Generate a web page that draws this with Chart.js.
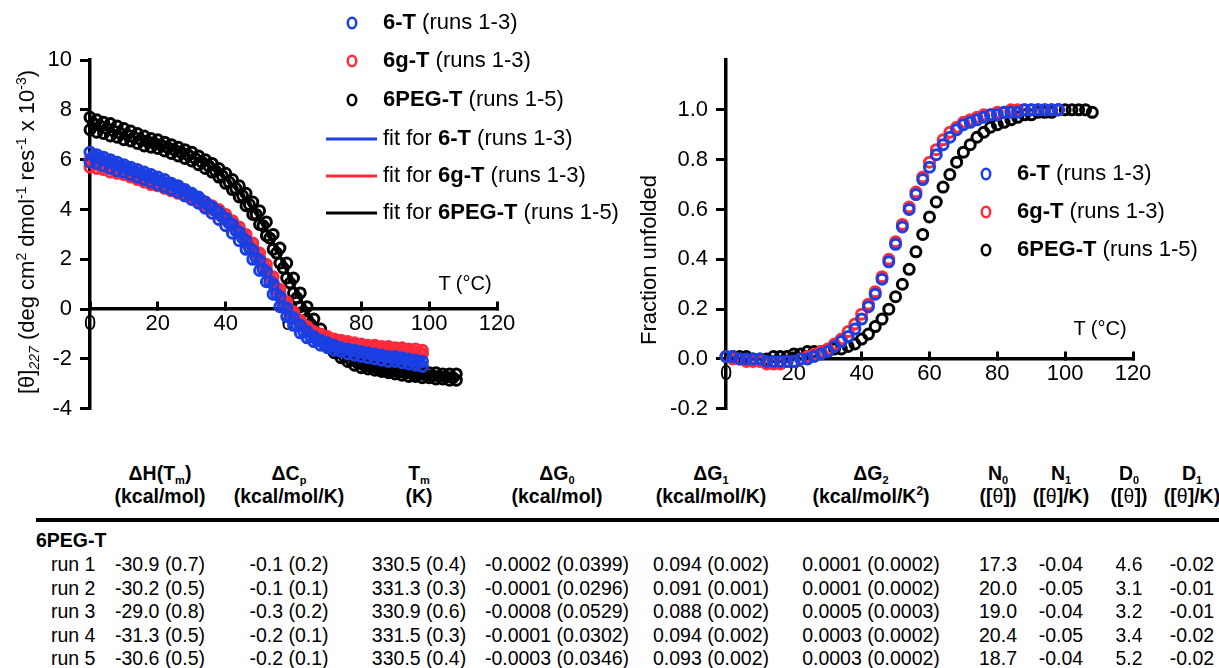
<!DOCTYPE html>
<html>
<head>
<meta charset="utf-8">
<script src="https://cdn.jsdelivr.net/npm/chart.js@4.4.1/dist/chart.umd.min.js"></script>
<style>
  html, body { margin: 0; padding: 0; background: #fff; }
  body { width: 1219px; height: 668px; position: relative; overflow: hidden;
         font-family: "Liberation Sans", Arial, sans-serif; color: #000; }
  canvas { position: absolute; top: 0; }
  #cdChart { left: 0; }
  #fracChart { left: 620px; }
  .lbl { position: absolute; white-space: nowrap; transform: translate(-50%, -50%); }
  .ytitle { position: absolute; white-space: nowrap; font-size: 22px;
            transform: translate(-50%, -50%) rotate(-90deg); }
  .ytitle sub, .ytitle sup { font-size: 14px; line-height: 0; }
  .ytitle sub { font-style: italic; }
  .axt { font-size: 20px; }
  .hd { font-weight: bold; font-size: 19.5px; }
  .hd sub { font-size: 11px; line-height: 0; vertical-align: -4px; }
  .hd sup { font-size: 12px; line-height: 0; }
  .th { font-weight: normal; }
  .val { font-size: 19.5px; }
  .rowlbl { position: absolute; white-space: nowrap; font-size: 19.5px; transform: translateY(-50%); }
  #rule { position: absolute; left: 36px; top: 518px; width: 1183px; height: 4px; background: #000; }
</style>
</head>
<body>
<canvas id="cdChart" width="640" height="430"></canvas>
<canvas id="fracChart" width="599" height="430"></canvas>

<div class="ytitle" style="left:27px; top:232px;">[θ]<sub>227</sub> (deg cm<sup>2</sup> dmol<sup>-1</sup> res<sup>-1</sup> x 10<sup>-3</sup>)</div>
<div class="ytitle" style="left:649px; top:260px;">Fraction unfolded</div>
<div class="lbl axt" style="left:465px; top:283px;">T (°C)</div>
<div class="lbl axt" style="left:1100px; top:328px;">T (°C)</div>
<div id="rule"></div>
<div id="table"></div>

<script>
// ---- CD signal, [θ]227 x 10^-3 (left panel) ----
const temps6T = [0,2,4,6,8,10,12,14,16,18,20,22,24,26,28,30,32,34,36,38,40,42,44,46,48,50,52,54,56,58,60,62,64,66,68,70,72,74,76,78,80,82,84,86,88,90,92,94,96,98]
const temps6T_odd = [1,3,5,7,9,11,13,15,17,19,21,23,25,27,29,31,33,35,37,39,41,43,45,47,49,51,53,55,57,59,61,63,65,67,69,71,73,75,77,79,81,83,85,87,89,91,93,95,97]
const tempsPEG = [0,2,4,6,8,10,12,14,16,18,20,22,24,26,28,30,32,34,36,38,40,42,44,46,48,50,52,54,56,58,60,62,64,66,68,70,72,74,76,78,80,82,84,86,88,90,92,94,96,98,100,102,104,106,108]
const tempsPEG_odd = [1,3,5,7,9,11,13,15,17,19,21,23,25,27,29,31,33,35,37,39,41,43,45,47,49,51,53,55,57,59,61,63,65,67,69,71,73,75,77,79,81,83,85,87,89,91,93,95,97,99,101,103,105,107]

const cd6T_a = [6.3,6.2,6.1,6.0,5.9,5.8,5.7,5.6,5.5,5.4, 5.3,5.2,5.05,4.95,4.8,4.65,4.5,4.3,4.1,3.9, 3.65,3.4,3.1,2.75,2.35,1.95,1.5,1.0,0.5,0.05, -0.35,-0.65,-0.9,-1.1,-1.25,-1.35,-1.45,-1.55,-1.6,-1.65, -1.7,-1.75,-1.8,-1.85,-1.9,-1.9,-1.95,-2.0,-2.05,-2.1]
const cd6T_b = [5.9,5.85,5.75,5.65,5.55,5.5,5.4,5.3,5.2,5.1, 5.0,4.9,4.8,4.7,4.55,4.4,4.25,4.05,3.85,3.6, 3.35,3.05,2.75,2.4,2.0,1.55,1.1,0.6,0.1,-0.3, -0.65,-0.95,-1.15,-1.3,-1.45,-1.55,-1.65,-1.7,-1.8,-1.85, -1.9,-1.95,-2.0,-2.05,-2.1,-2.1,-2.15,-2.2,-2.25,-2.3]
const cd6T_c = [6.15,6.05,5.95,5.85,5.75,5.65,5.55,5.45,5.35,5.25, 5.15,5.05,4.95,4.8,4.65,4.5,4.35,4.15,3.95,3.7, 3.45,3.15,2.85,2.45,2.05,1.6,1.1,0.6,0.1,-0.3, -0.65,-0.9,-1.1,-1.25,-1.4,-1.5,-1.55,-1.62,-1.68,-1.72, -1.78,-1.82,-1.88,-1.92,-1.97,-2.0,-2.05,-2.1,-2.15]
const cd6gT_a = [6.0,5.95,5.9,5.8,5.7,5.6,5.5,5.4,5.3,5.2, 5.1,5.0,4.9,4.8,4.7,4.6,4.45,4.3,4.15,4.0, 3.8,3.55,3.3,3.0,2.65,2.25,1.8,1.3,0.8,0.3, -0.1,-0.45,-0.7,-0.9,-1.0,-1.1,-1.2,-1.25,-1.3,-1.35, -1.4,-1.45,-1.45,-1.5,-1.5,-1.55,-1.55,-1.6,-1.6,-1.65]
const cd6gT_b = [5.7,5.65,5.6,5.5,5.45,5.4,5.3,5.2,5.1,5.0, 4.95,4.85,4.75,4.65,4.55,4.45,4.3,4.15,4.0,3.8, 3.6,3.35,3.1,2.8,2.45,2.05,1.6,1.1,0.6,0.15, -0.25,-0.55,-0.8,-0.95,-1.1,-1.2,-1.3,-1.35,-1.4,-1.45, -1.5,-1.55,-1.55,-1.6,-1.65,-1.65,-1.7,-1.7,-1.75,-1.8]
const cd6gT_c = [5.85,5.75,5.68,5.6,5.5,5.42,5.33,5.23,5.13,5.05, 4.97,4.87,4.77,4.67,4.57,4.45,4.3,4.15,3.97,3.77, 3.55,3.3,3.0,2.65,2.25,1.8,1.3,0.8,0.35,-0.05, -0.4,-0.65,-0.85,-1.0,-1.1,-1.2,-1.27,-1.32,-1.37,-1.42, -1.47,-1.5,-1.55,-1.57,-1.6,-1.62,-1.65,-1.68,-1.72]
const cdPEG_a = [7.7,7.6,7.5,7.45,7.35,7.25,7.15,7.05,6.95,6.85, 6.8,6.7,6.6,6.5,6.4,6.3,6.15,6.0,5.85,5.65, 5.45,5.2,4.95,4.65,4.3,3.95,3.5,3.0,2.45,1.85, 1.25,0.65,0.1,-0.4,-0.8,-1.15,-1.45,-1.7,-1.85,-2.0, -2.15,-2.25,-2.3,-2.35,-2.4,-2.45,-2.45,-2.5,-2.5,-2.55, -2.55,-2.55,-2.6,-2.6,-2.6]
const cdPEG_b = [7.2,7.1,7.05,6.95,6.9,6.8,6.75,6.65,6.55,6.5, 6.45,6.35,6.25,6.15,6.05,5.95,5.8,5.65,5.5,5.3, 5.05,4.8,4.5,4.15,3.8,3.4,2.95,2.4,1.85,1.25, 0.65,0.1,-0.4,-0.85,-1.2,-1.5,-1.75,-1.95,-2.1,-2.25, -2.35,-2.4,-2.45,-2.5,-2.55,-2.6,-2.65,-2.7,-2.7,-2.75, -2.75,-2.8,-2.8,-2.85,-2.85]
const cdPEG_c = [7.45,7.35,7.25,7.15,7.05,7.0,6.9,6.8,6.72,6.65, 6.58,6.48,6.38,6.28,6.18,6.05,5.9,5.75,5.55,5.35, 5.1,4.85,4.55,4.2,3.8,3.35,2.85,2.25,1.65,1.05, 0.45,-0.1,-0.6,-1.0,-1.3,-1.55,-1.75,-1.9,-2.05,-2.17, -2.27,-2.33,-2.4,-2.45,-2.5,-2.52,-2.57,-2.6,-2.62,-2.65, -2.67,-2.7,-2.72,-2.75]

// fitted curves (drawn under the markers)
const fitTemps6T = [0,5,10,15,20,25,30,35,40,45,50,55,60,65,70,75,80,85,90,95,98]
const fitTempsPEG = [0,5,10,15,20,25,30,35,40,45,50,55,60,65,70,75,80,85,90,95,100,105,108]
const fit6T = [6.1,5.85,5.65,5.4,5.15,4.9,4.55,4.0,3.5,2.75,1.75,0.8,-0.5,-1.1,-1.45,-1.65,-1.8,-1.9,-2.0,-2.1,-2.2]
const fit6gT = [5.85,5.7,5.5,5.3,5.05,4.8,4.5,4.2,3.7,3.05,2.15,1.0,-0.15,-0.85,-1.15,-1.3,-1.45,-1.52,-1.6,-1.65,-1.72]
const fitPEG = [7.45,7.2,7.0,6.85,6.62,6.45,6.1,5.95,5.25,4.55,3.65,2.4,0.95,-0.4,-1.3,-1.8,-2.25,-2.4,-2.5,-2.58,-2.65,-2.68,-2.7]

// ---- fraction unfolded (right panel) ----
const frac6T = [0.01,0.01,0.0,0.0,0.0,0.0,-0.01,-0.01,-0.01,-0.01, -0.01,0.0,0.0,0.01,0.02,0.03,0.05,0.07,0.09,0.12, 0.16,0.21,0.26,0.32,0.39,0.46,0.53,0.6,0.66,0.72, 0.77,0.82,0.86,0.89,0.92,0.94,0.95,0.96,0.97,0.98, 0.98,0.99,0.99,0.99,1.0,1.0,1.0,1.0,1.0,1.0]
const frac6gT = [0.01,0.0,0.0,-0.01,-0.01,-0.01,-0.02,-0.02,-0.02,-0.01, -0.01,0.0,0.01,0.02,0.03,0.04,0.06,0.08,0.11,0.14, 0.18,0.22,0.27,0.33,0.4,0.47,0.54,0.61,0.67,0.73, 0.79,0.84,0.88,0.91,0.93,0.95,0.96,0.97,0.98,0.98, 0.99,0.99,1.0,1.0,1.0,1.0,1.0,1.0,1.0,1.0]
const fracPEG = [0.01,0.01,0.01,0.01,0.0,0.0,0.0,0.01,0.01,0.01, 0.02,0.02,0.03,0.03,0.03,0.03,0.04,0.04,0.05,0.06, 0.08,0.1,0.13,0.16,0.2,0.25,0.3,0.36,0.43,0.5, 0.57,0.63,0.69,0.74,0.79,0.83,0.86,0.89,0.91,0.93, 0.94,0.95,0.96,0.97,0.98,0.98,0.99,0.99,0.99,1.0, 1.0,1.0,1.0,1.0,0.99]

// ---- fit parameter table (6PEG-T) ----
const runLabels = ['run 1', 'run 2', 'run 3', 'run 4', 'run 5']
const colDH = ['-30.9 (0.7)', '-30.2 (0.5)', '-29.0 (0.8)', '-31.3 (0.5)', '-30.6 (0.5)']
const colDCp = ['-0.1 (0.2)', '-0.1 (0.1)', '-0.3 (0.2)', '-0.2 (0.1)', '-0.2 (0.1)']
const colTm = ['330.5 (0.4)', '331.3 (0.3)', '330.9 (0.6)', '331.5 (0.3)', '330.5 (0.4)']
const colDG0 = ['-0.0002 (0.0399)', '-0.0001 (0.0296)', '-0.0008 (0.0529)', '-0.0001 (0.0302)', '-0.0003 (0.0346)']
const colDG1 = ['0.094 (0.002)', '0.091 (0.001)', '0.088 (0.002)', '0.094 (0.002)', '0.093 (0.002)']
const colDG2 = ['0.0001 (0.0002)', '0.0001 (0.0002)', '0.0005 (0.0003)', '0.0003 (0.0002)', '0.0003 (0.0002)']
const colN0 = ['17.3', '20.0', '19.0', '20.4', '18.7']
const colN1 = ['-0.04', '-0.05', '-0.04', '-0.05', '-0.04']
const colD0 = ['4.6', '3.1', '3.2', '3.4', '5.2']
const colD1 = ['-0.02', '-0.01', '-0.01', '-0.02', '-0.02']

const BLUE = '#1a3fe3'
const RED = '#ff2a3a'
const FONT = "'Liberation Sans', Arial, sans-serif"

const xy = (xs, ys) => xs.map((x, i) => ({ x: x, y: ys[i] }))

function markers(label, xs, ys, color) {
  return {
    label: label, data: xy(xs, ys),
    borderColor: color, backgroundColor: 'rgba(255,255,255,0)',
    pointRadius: 5, pointBorderWidth: 3, showLine: false, clip: false
  }
}

function fitLine(label, xs, ys, color) {
  return {
    type: 'line', label: label, data: xy(xs, ys), order: 1,
    borderColor: color, borderWidth: 3, pointRadius: 0, tension: 0.3, clip: false
  }
}

// legend with bold sample names, drawn straight on the canvas
const partsLegend = {
  id: 'partsLegend',
  afterDraw(chart, args, opts) {
    const ctx = chart.ctx
    ctx.save()
    opts.items.forEach(item => {
      ctx.strokeStyle = item.color
      ctx.beginPath()
      if (item.symbol === 'circle') {
        ctx.lineWidth = 2.5
        ctx.ellipse(opts.symbolX, item.y, 4.2, 5.2, 0, 0, Math.PI * 2)
      } else {
        ctx.lineWidth = 3
        ctx.moveTo(opts.lineX0, item.y)
        ctx.lineTo(opts.lineX1, item.y)
      }
      ctx.stroke()
      let x = opts.textX
      ctx.fillStyle = '#000'
      ctx.textBaseline = 'middle'
      item.parts.forEach(p => {
        ctx.font = (p[1] ? 'bold ' : '') + '22px ' + FONT
        ctx.fillText(p[0], x, item.y)
        x += ctx.measureText(p[0]).width
      })
    })
    ctx.restore()
  }
}

function axes(yMin, yMax, yStep, yWidth, yFmt) {
  const tickFont = { size: 22, family: FONT }
  return {
    x: {
      type: 'linear', min: 0, max: 120, position: { y: 0 },
      ticks: { stepSize: 20, color: '#000', font: tickFont, padding: 11, maxRotation: 0, includeBounds: false },
      grid: { drawOnChartArea: false, color: '#000', lineWidth: 3, tickLength: -9 },
      border: { color: '#000', width: 3.5 },
      afterFit(s) { s.height = 0 }
    },
    y: {
      type: 'linear', min: yMin, max: yMax,
      ticks: { stepSize: yStep, color: '#000', font: tickFont, padding: 8, includeBounds: false, callback: yFmt },
      grid: { drawOnChartArea: false, color: '#000', lineWidth: 3, tickLength: 10 },
      border: { color: '#000', width: 3.5 },
      afterFit(s) { s.width = yWidth },
      afterBuildTicks(s) { s.ticks = s.ticks.filter(t => t.value <= 1.0001 || yMax > 2) }
    }
  }
}

new Chart(document.getElementById('cdChart'), {
  type: 'scatter',
  data: {
    datasets: [
      markers('6-T run a', temps6T, cd6T_a, BLUE),
      markers('6-T run b', temps6T, cd6T_b, BLUE),
      markers('6-T run c', temps6T_odd, cd6T_c, BLUE),
      markers('6g-T run a', temps6T, cd6gT_a, RED),
      markers('6g-T run b', temps6T, cd6gT_b, RED),
      markers('6g-T run c', temps6T_odd, cd6gT_c, RED),
      markers('6PEG-T run a', tempsPEG, cdPEG_a, '#000'),
      markers('6PEG-T run b', tempsPEG, cdPEG_b, '#000'),
      markers('6PEG-T run c', tempsPEG_odd, cdPEG_c, '#000'),
      fitLine('fit for 6-T', fitTemps6T, fit6T, BLUE),
      fitLine('fit for 6g-T', fitTemps6T, fit6gT, RED),
      fitLine('fit for 6PEG-T', fitTempsPEG, fitPEG, '#000')
    ]
  },
  options: {
    responsive: false, animation: false, events: [],
    layout: { padding: { top: 60, bottom: 19, left: 0, right: 143 } },
    scales: axes(-4, 10, 2, 90, v => v),
    plugins: {
      legend: { display: false }, tooltip: { enabled: false },
      partsLegend: {
        symbolX: 352, textX: 383, lineX0: 326, lineX1: 377,
        items: [
          { symbol: 'circle', color: BLUE, y: 23, parts: [['6-T', true], [' (runs 1-3)', false]] },
          { symbol: 'circle', color: RED, y: 61, parts: [['6g-T', true], [' (runs 1-3)', false]] },
          { symbol: 'circle', color: '#000', y: 100, parts: [['6PEG-T', true], [' (runs 1-5)', false]] },
          { symbol: 'line', color: BLUE, y: 139, parts: [['fit for ', false], ['6-T', true], [' (runs 1-3)', false]] },
          { symbol: 'line', color: RED, y: 176, parts: [['fit for ', false], ['6g-T', true], [' (runs 1-3)', false]] },
          { symbol: 'line', color: '#000', y: 213, parts: [['fit for ', false], ['6PEG-T', true], [' (runs 1-5)', false]] }
        ]
      }
    }
  },
  plugins: [partsLegend]
})

new Chart(document.getElementById('fracChart'), {
  type: 'scatter',
  data: {
    datasets: [
      markers('6-T', temps6T, frac6T, BLUE),
      markers('6g-T', temps6T, frac6gT, RED),
      markers('6PEG-T', tempsPEG, fracPEG, '#000')
    ]
  },
  options: {
    responsive: false, animation: false, events: [],
    layout: { padding: { top: 60, bottom: 19, left: 0, right: 86 } },
    scales: axes(-0.2, 1.2, 0.2, 106, v => (Math.abs(v) < 1e-9 ? 0 : v).toFixed(1)),
    plugins: {
      legend: { display: false }, tooltip: { enabled: false },
      partsLegend: {
        symbolX: 366, textX: 397,
        items: [
          { symbol: 'circle', color: BLUE, y: 174, parts: [['6-T', true], [' (runs 1-3)', false]] },
          { symbol: 'circle', color: RED, y: 212, parts: [['6g-T', true], [' (runs 1-3)', false]] },
          { symbol: 'circle', color: '#000', y: 250, parts: [['6PEG-T', true], [' (runs 1-5)', false]] }
        ]
      }
    }
  },
  plugins: [partsLegend]
})

// table below the charts
const table = document.getElementById('table')
const colX = [160, 289, 419, 557, 711, 871, 998, 1061, 1129, 1192]
const headTop = [
  'ΔH(T<sub>m</sub>)', 'ΔC<sub>p</sub>', 'T<sub>m</sub>', 'ΔG<sub>0</sub>', 'ΔG<sub>1</sub>',
  'ΔG<sub>2</sub>', 'N<sub>0</sub>', 'N<sub>1</sub>', 'D<sub>0</sub>', 'D<sub>1</sub>'
]
const headUnits = [
  '(kcal/mol)', '(kcal/mol/K)', '(K)', '(kcal/mol)', '(kcal/mol/K)', '(kcal/mol/K<sup>2</sup>)',
  '([<span class="th">θ</span>])', '([<span class="th">θ</span>]/K)', '([<span class="th">θ</span>])', '([<span class="th">θ</span>]/K)'
]
const columns = [colDH, colDCp, colTm, colDG0, colDG1, colDG2, colN0, colN1, colD0, colD1]
const rowY = [564, 588, 611, 635, 658]

function cell(html, x, y, cls) {
  const d = document.createElement('div')
  d.className = 'lbl ' + cls
  d.style.left = x + 'px'
  d.style.top = y + 'px'
  d.innerHTML = html
  table.appendChild(d)
}

colX.forEach((x, i) => {
  cell(headTop[i], x, 473, 'hd')
  cell(headUnits[i], x, 496, 'hd')
  columns[i].forEach((v, r) => cell(v, x, rowY[r], 'val'))
})

const grp = document.createElement('div')
grp.className = 'rowlbl hd'
grp.style.left = '36px'
grp.style.top = '540px'
grp.textContent = '6PEG-T'
table.appendChild(grp)

runLabels.forEach((t, r) => {
  const d = document.createElement('div')
  d.className = 'rowlbl'
  d.style.left = '51px'
  d.style.top = rowY[r] + 'px'
  d.textContent = t
  table.appendChild(d)
})
</script>
</body>
</html>
